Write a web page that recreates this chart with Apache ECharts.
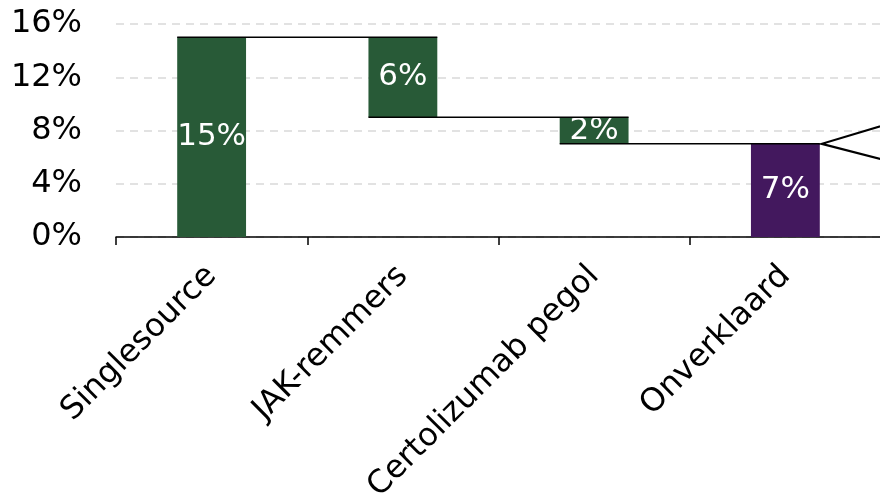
<!DOCTYPE html>
<html>
<head>
<meta charset="utf-8">
<style>
  html, body { margin: 0; padding: 0; background: #fff; }
  #chart { width: 880px; height: 499px; }
</style>
<script src="https://cdn.jsdelivr.net/npm/echarts@6/dist/echarts.min.js"></script>
</head>
<body>
<div id="chart"></div>
<script>
// Waterfall: contributions per category (percent)
const categories = ['Singlesource', 'JAK-remmers', 'Certolizumab pegol', 'Onverklaard'];
const baseValues = [0, 9, 7, 0];      // invisible offset below each step
const stepValues = [15, 6, 2, 7];     // visible step height
const connectorLevels = [15, 9, 7];   // level joining step i to step i+1
const yTicks = [0, 4, 8, 12, 16];

const GREEN = '#285a37';
const PURPLE = '#43185e';
const FONT = 'DejaVu Sans';
const BAR_RATIO = 0.36;

const chart = echarts.init(document.getElementById('chart'));

const option = {
  animation: false,
  grid: {
    left: 116, right: -1, top: 24, bottom: 262,
    containLabel: false, outerBoundsMode: 'none'
  },
  xAxis: {
    type: 'category',
    data: categories,
    axisLine: { show: true, lineStyle: { color: '#000', width: 1.5 } },
    axisTick: { show: true, alignWithLabel: false, length: 8, lineStyle: { color: '#000', width: 1.5 } },
    axisLabel: {
      rotate: 45, interval: 0, margin: 34,
      fontFamily: FONT, fontSize: 32, color: '#000'
    },
    splitLine: { show: false }
  },
  yAxis: {
    type: 'value',
    min: yTicks[0], max: yTicks[yTicks.length - 1], interval: 4,
    axisLine: { show: false },
    axisTick: { show: false },
    axisLabel: {
      formatter: '{value}%', margin: 34,
      fontFamily: FONT, fontSize: 32, color: '#000'
    },
    splitLine: { show: true, lineStyle: { color: '#d9d9d9', type: [8, 6], width: 1.5 } }
  },
  series: [
    {
      type: 'bar',
      stack: 'wf',
      barWidth: (BAR_RATIO * 100) + '%',
      itemStyle: { color: 'transparent' },
      silent: true,
      data: baseValues
    },
    {
      type: 'bar',
      stack: 'wf',
      barWidth: (BAR_RATIO * 100) + '%',
      data: stepValues.map((v, i) => ({
        value: v,
        itemStyle: { color: i === stepValues.length - 1 ? PURPLE : GREEN }
      })),
      label: {
        show: true, position: 'inside',
        formatter: p => p.value + '%',
        fontFamily: FONT, fontSize: 31, color: '#fff'
      }
    },
    {
      // connector lines between consecutive steps
      type: 'custom',
      silent: true,
      clip: false,
      z: 5,
      data: connectorLevels.map((v, i) => [i, v]),
      renderItem: function (params, api) {
        const i = api.value(0);
        const lvl = api.value(1);
        const band = api.size([1, 0])[0];
        const half = band * BAR_RATIO / 2;
        const a = api.coord([i, lvl]);
        return {
          type: 'line',
          shape: { x1: a[0] - half, y1: a[1], x2: a[0] + band + half, y2: a[1] },
          style: { stroke: '#000', lineWidth: 1.5 }
        };
      }
    },
    {
      // pointer arrow at the last bar
      type: 'custom',
      silent: true,
      clip: false,
      z: 6,
      data: [[stepValues.length - 1, baseValues[3] + stepValues[3]]],
      renderItem: function (params, api) {
        const band = api.size([1, 0])[0];
        const half = band * BAR_RATIO / 2;
        const c = api.coord([api.value(0), api.value(1)]);
        const tipX = c[0] + half + 2;
        return {
          type: 'polyline',
          shape: { points: [[tipX + 70, c[1] - 21], [tipX, c[1]], [tipX + 70, c[1] + 18]] },
          style: { stroke: '#000', lineWidth: 2.2, fill: null }
        };
      }
    }
  ]
};

chart.setOption(option);
</script>
</body>
</html>
